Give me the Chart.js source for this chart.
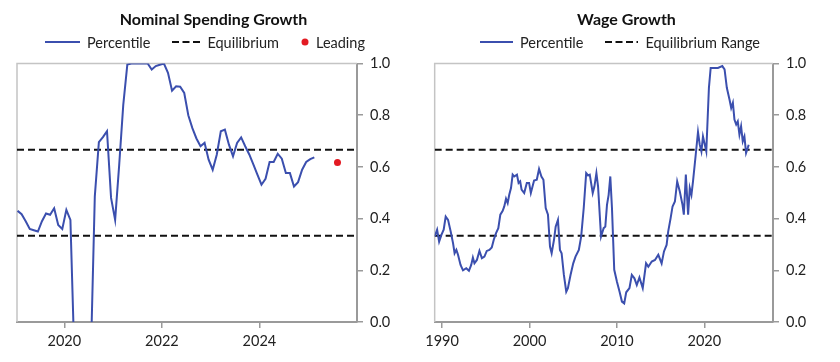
<!DOCTYPE html>
<html>
<head>
<meta charset="utf-8">
<script src="https://cdn.jsdelivr.net/npm/chart.js@4.4.1/dist/chart.umd.min.js"></script>
<style>
  body { margin: 0; background: #fff; font-family: Lato, "Noto Sans", sans-serif; }
  #wrap { position: relative; width: 840px; height: 362px; }
  .panel { position: absolute; top: 0; height: 362px; }
  .legend { position: absolute; top: 33px; height: 18px; display: flex; justify-content: center; align-items: center; font-size: 14.5px; color: #222; white-space: nowrap; }
  .legend .item { display: flex; align-items: center; margin: 0 11px; }
  .legend svg { margin-right: 7px; }
</style>
</head>
<body>
<div id="wrap">
  <div class="panel" style="left:0;width:410px">
    <canvas id="spendChart" width="410" height="362"></canvas>
    <div class="legend" style="left:0;width:410px">
      <span class="item"><svg width="35" height="4"><line x1="0" y1="2" x2="35" y2="2" stroke="#3B4FAE" stroke-width="2"/></svg>Percentile</span>
      <span class="item"><svg width="28" height="4"><line x1="0" y1="2" x2="28" y2="2" stroke="#111" stroke-width="2" stroke-dasharray="7,3.5"/></svg>Equilibrium</span>
      <span class="item"><svg width="8" height="8"><circle cx="4" cy="4" r="3.5" fill="#E31B23"/></svg>Leading</span>
    </div>
  </div>
  <div class="panel" style="left:420px;width:400px">
    <canvas id="wageChart" width="400" height="362"></canvas>
    <div class="legend" style="left:0;width:400px">
      <span class="item"><svg width="33" height="4"><line x1="0" y1="2" x2="33" y2="2" stroke="#3B4FAE" stroke-width="2"/></svg>Percentile</span>
      <span class="item"><svg width="33" height="4"><line x1="0" y1="2" x2="33" y2="2" stroke="#111" stroke-width="2" stroke-dasharray="7,3.5"/></svg>Equilibrium Range</span>
    </div>
  </div>
</div>
<script>
// nominal spending growth, monthly from Jan 2019
const spendStartYear = 2019;
const spendPercentile = [
  0.43, 0.417, 0.39, 0.36, 0.355, 0.35, 0.39, 0.42, 0.415, 0.44, 0.375, 0.36,
  0.434, 0.395, -0.15, -1, -1, -1, -0.15, 0.486, 0.696, 0.715, 0.738, 0.48,
  0.395, 0.608, 0.84, 0.996, 1.0, 1.0, 1.0, 1.0, 1.0, 0.977, 0.99, 0.995,
  1.0, 0.964, 0.895, 0.912, 0.91, 0.886, 0.80, 0.75, 0.71, 0.68, 0.693, 0.628,
  0.589, 0.647, 0.738, 0.744, 0.686, 0.641, 0.693, 0.714, 0.68, 0.648, 0.61, 0.57,
  0.531, 0.554, 0.619, 0.619, 0.651, 0.632, 0.576, 0.576, 0.524, 0.541, 0.589, 0.619,
  0.63, 0.637
];
const leadingDate = [2025.6];
const leadingValue = [0.617];

// wage growth
const wageDates = [
  1989.16, 1989.43, 1989.66, 1989.92, 1990.18, 1990.41, 1990.68, 1990.98, 1991.25, 1991.43,
  1991.63, 1991.82, 1992.11, 1992.39, 1992.76, 1993.07, 1993.33, 1993.52, 1993.70, 1993.98,
  1994.27, 1994.55, 1994.84, 1995.11, 1995.41, 1995.68, 1995.91, 1996.17, 1996.43, 1996.66,
  1996.93, 1997.11, 1997.31, 1997.50, 1997.68, 1997.88, 1998.07, 1998.25, 1998.56, 1998.75,
  1998.93, 1999.09, 1999.39, 1999.69, 1999.95, 2000.15, 2000.52, 2000.83, 2001.09, 2001.36,
  2001.59, 2001.85, 2002.11, 2002.34, 2002.53, 2002.80, 2002.99, 2003.25, 2003.48, 2003.67,
  2003.93, 2004.20, 2004.39, 2004.69, 2005.00, 2005.26, 2005.64, 2005.91, 2006.20, 2006.48,
  2006.70, 2006.89, 2007.23, 2007.42, 2007.65, 2007.84, 2008.18, 2008.48, 2008.67, 2008.86,
  2009.05, 2009.24, 2009.43, 2009.69, 2010.00, 2010.30, 2010.57, 2010.83, 2011.06, 2011.43,
  2011.70, 2012.00, 2012.27, 2012.57, 2012.95, 2013.33, 2013.59, 2013.98, 2014.35, 2014.73,
  2015.11, 2015.38, 2015.68, 2015.86, 2016.14, 2016.36, 2016.63, 2016.89, 2017.19, 2017.50,
  2017.65, 2017.88, 2018.14, 2018.33, 2018.52, 2018.70, 2019.01, 2019.27, 2019.47, 2019.66,
  2019.84, 2020.22, 2020.52, 2020.72, 2021.17, 2021.55, 2022.05, 2022.31, 2022.57, 2022.88,
  2023.07, 2023.26, 2023.44, 2023.64, 2023.82, 2024.01, 2024.20, 2024.39, 2024.58, 2024.77,
  2024.96, 2025.07
];
const wagePercentile = [
  0.331, 0.357, 0.311, 0.337, 0.357, 0.408, 0.395, 0.35, 0.305, 0.266,
  0.279, 0.26, 0.221, 0.20, 0.208, 0.198, 0.221, 0.249, 0.227, 0.24,
  0.275, 0.247, 0.253, 0.275, 0.279, 0.288, 0.318, 0.344, 0.363, 0.415,
  0.43, 0.447, 0.477, 0.46, 0.492, 0.518, 0.57, 0.563, 0.57, 0.538,
  0.544, 0.512, 0.499, 0.538, 0.538, 0.499, 0.547, 0.55, 0.592, 0.563,
  0.55, 0.441, 0.415, 0.292, 0.266, 0.318, 0.369, 0.395, 0.279, 0.266,
  0.182, 0.117, 0.131, 0.182, 0.227, 0.253, 0.279, 0.331, 0.441, 0.576,
  0.567, 0.57, 0.499, 0.524, 0.576, 0.524, 0.331, 0.363, 0.369, 0.453,
  0.492, 0.563, 0.441, 0.202, 0.156, 0.117, 0.079, 0.072, 0.115, 0.131,
  0.182, 0.169, 0.143, 0.172, 0.131, 0.227, 0.214, 0.234, 0.24, 0.26,
  0.227, 0.273, 0.298, 0.35, 0.402, 0.447, 0.466, 0.544, 0.505, 0.453,
  0.415, 0.57, 0.415, 0.518, 0.492, 0.544, 0.647, 0.735, 0.686, 0.66,
  0.718, 0.66, 0.906, 0.983, 0.983, 0.983, 0.99, 0.977, 0.906, 0.86,
  0.828, 0.848, 0.783, 0.764, 0.776, 0.725, 0.757, 0.699, 0.718, 0.654,
  0.673, 0.686
];

const equilibriumBand = [1 / 3, 2 / 3];
const spendTicks = [2020, 2022, 2024];
const wageTicks = [1990, 2000, 2010, 2020];

const BLUE = "#3B4FAE";
const RED = "#E31B23";
const AXIS = "#9a9a9a";
const FONT = "Lato, 'Noto Sans', sans-serif";

// light frame around the plot area (left + top edges)
const framePlugin = {
    id: "frame",
    beforeDatasetsDraw(chart) {
        const { ctx, chartArea: a } = chart;
        ctx.save();
        ctx.strokeStyle = "#c4c4c4";
        ctx.lineWidth = 1.5;
        ctx.beginPath();
        ctx.moveTo(a.left, a.bottom);
        ctx.lineTo(a.left, a.top);
        ctx.lineTo(a.right, a.top);
        ctx.stroke();
        ctx.restore();
    }
};

function equilibriumSets(xMin, xMax) {
    return equilibriumBand.map(v => ({
        label: "Equilibrium",
        data: [{ x: xMin, y: v }, { x: xMax, y: v }],
        borderColor: "#111",
        borderWidth: 2,
        borderDash: [7, 4],
        pointRadius: 0
    }));
}

function makeChart(id, title, xMin, xMax, xTicks, datasets, padLeft, axisWidth) {
    new Chart(document.getElementById(id), {
        type: "line",
        data: { datasets: datasets },
        plugins: [framePlugin],
        options: {
            responsive: false,
            animation: false,
            layout: { padding: { left: padLeft, right: 0, top: 0, bottom: 0 } },
            plugins: {
                legend: { display: false },
                tooltip: { enabled: false },
                title: {
                    display: true,
                    text: title,
                    color: "#111",
                    font: { family: FONT, size: 16, weight: "bold" },
                    padding: { top: 10, bottom: 34.3 }
                }
            },
            scales: {
                x: {
                    type: "linear",
                    min: xMin,
                    max: xMax,
                    afterBuildTicks: s => { s.ticks = xTicks.map(v => ({ value: v })); },
                    afterFit: s => { s.height = 40; },
                    grid: { drawOnChartArea: false, color: AXIS, tickLength: 6, lineWidth: 1.5 },
                    border: { color: AXIS, width: 2 },
                    ticks: {
                        color: "#222",
                        padding: 5,
                        maxRotation: 0,
                        font: { family: FONT, size: 14.5 },
                        callback: v => String(v)
                    }
                },
                y: {
                    position: "right",
                    min: 0,
                    max: 1,
                    afterFit: s => { s.width = axisWidth; },
                    grid: { drawOnChartArea: false, color: AXIS, tickLength: 6, lineWidth: 1.5 },
                    border: { color: AXIS, width: 2 },
                    ticks: {
                        stepSize: 0.2,
                        color: "#222",
                        padding: 7,
                        font: { family: FONT, size: 14.5 },
                        callback: v => v.toFixed(1)
                    }
                }
            }
        }
    });
}

document.addEventListener("DOMContentLoaded", function () {
    const spendMin = 2019.03, spendMax = 2026.0;
    const spendSets = [{
        label: "Percentile",
        data: spendPercentile.map((v, i) => ({ x: spendStartYear + (i + 0.5) / 12, y: v })),
        borderColor: BLUE,
        borderWidth: 2,
        pointRadius: 0,
        tension: 0
    }].concat(equilibriumSets(spendMin, spendMax), [{
        label: "Leading",
        data: leadingDate.map((d, i) => ({ x: d, y: leadingValue[i] })),
        showLine: false,
        pointRadius: 3.5,
        pointBackgroundColor: RED,
        pointBorderWidth: 0
    }]);
    makeChart("spendChart", "Nominal Spending Growth", spendMin, spendMax, spendTicks, spendSets, 17, 53);

    const wageMin = 1989.15, wageMax = 2027.85;
    const wageSets = [{
        label: "Percentile",
        data: wageDates.map((d, i) => ({ x: d, y: wagePercentile[i] })),
        borderColor: BLUE,
        borderWidth: 2,
        pointRadius: 0,
        tension: 0
    }].concat(equilibriumSets(wageMin, wageMax));
    makeChart("wageChart", "Wage Growth", wageMin, wageMax, wageTicks, wageSets, 13, 47);
});
</script>
</body>
</html>
